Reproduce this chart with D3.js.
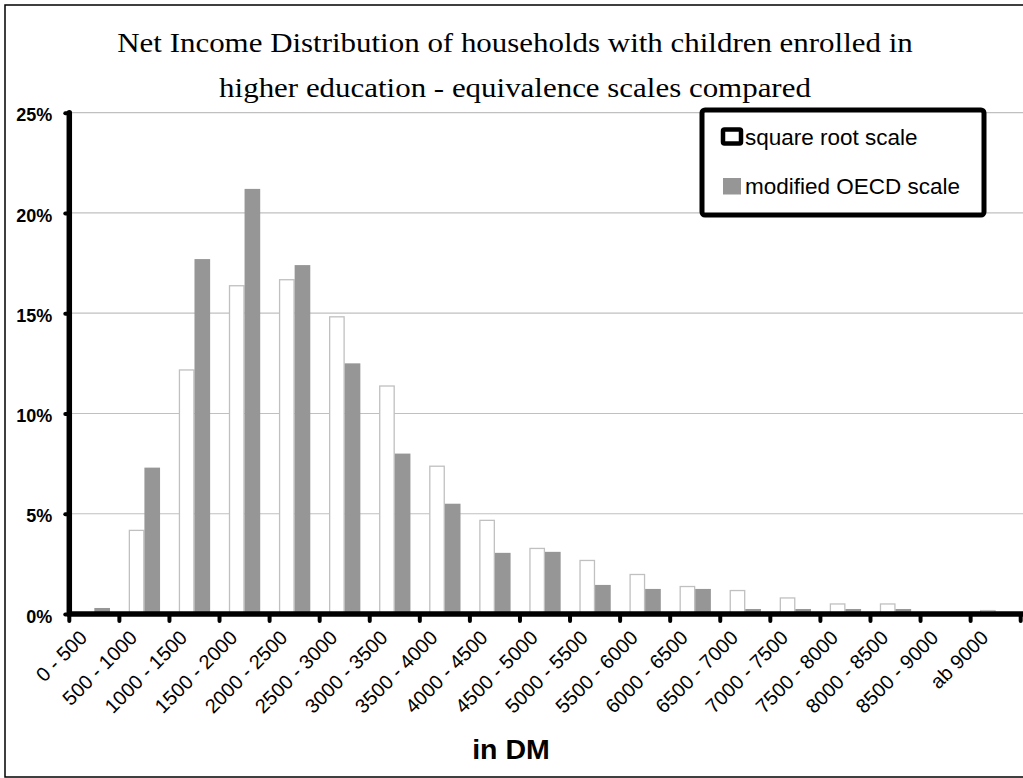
<!DOCTYPE html>
<html>
<head>
<meta charset="utf-8">
<script src="https://cdn.jsdelivr.net/npm/d3@7/dist/d3.min.js"></script>
<style>
  html, body { margin: 0; padding: 0; background: #fff; }
  svg { display: block; }
</style>
</head>
<body>
<script>
const categories = ["0 - 500","500 - 1000","1000 - 1500","1500 - 2000","2000 - 2500","2500 - 3000","3000 - 3500","3500 - 4000","4000 - 4500","4500 - 5000","5000 - 5500","5500 - 6000","6000 - 6500","6500 - 7000","7000 - 7500","7500 - 8000","8000 - 8500","8500 - 9000","ab 9000"];
const seriesNames = ["square root scale", "modified OECD scale"];
const squareRootValues = [0, 4.2, 12.2, 16.4, 16.7, 14.85, 11.4, 7.4, 4.7, 3.3, 2.7, 2.0, 1.4, 1.2, 0.83, 0.53, 0.53, 0, 0.2];
const oecdValues = [0.3, 7.3, 17.7, 21.2, 17.4, 12.5, 8.0, 5.5, 3.05, 3.1, 1.45, 1.25, 1.25, 0.25, 0.25, 0.25, 0.25, 0, 0];
const yTicks = [0, 5, 10, 15, 20, 25];
const titleLines = ["Net Income Distribution of households with children enrolled in", "higher education - equivalence scales compared"];
const xTitle = "in DM";

(function () {
const W = 1023, H = 778;
const SANS = "Arial, 'Liberation Sans', sans-serif";
const svg = d3.select("body").append("svg").attr("width", W).attr("height", H);

// outer frame
svg.append("rect").attr("x", 5).attr("y", 5).attr("width", W + 20).attr("height", 772)
  .attr("fill", "#fff").attr("stroke", "#000").attr("stroke-width", 1.5);

const pLeft = 69.3, pRight = 1020.7, pTop = 112.7, pBottom = 614;
const x0 = d3.scaleBand().domain(categories).range([pLeft, pRight]).padding(0);
const x1 = d3.scaleBand().domain(seriesNames).range([0, x0.bandwidth()]).paddingInner(0).paddingOuter(0.6);
const y = d3.scaleLinear().domain([0, 25]).range([pBottom, pTop]);

// gridlines
svg.append("g").selectAll("line").data(yTicks.filter(d => d > 0)).join("line")
  .attr("x1", pLeft).attr("x2", W).attr("y1", d => y(d)).attr("y2", d => y(d))
  .attr("stroke", "#c0c0c0").attr("stroke-width", 1.2);

// bars
const data = categories.map((c, i) => ({ c, vals: [squareRootValues[i], oecdValues[i]] }));
const g = svg.append("g");
data.forEach(d => {
  d.vals.forEach((v, si) => {
    if (v <= 0) return;
    const bx = x0(d.c) + x1(seriesNames[si]);
    const bw = x1.bandwidth();
    if (si === 0) {
      g.append("rect").attr("x", bx + 0.6).attr("y", y(v) + 0.6)
        .attr("width", bw - 1.2).attr("height", Math.max(0, y(0) - y(v) - 0.6))
        .attr("fill", "#fff").attr("stroke", "#c0c0c0").attr("stroke-width", 1.3);
    } else {
      g.append("rect").attr("x", bx).attr("y", y(v))
        .attr("width", bw).attr("height", y(0) - y(v))
        .attr("fill", "#969696");
    }
  });
});

// y axis
const yAxis = d3.axisLeft(y).tickValues(yTicks).tickSize(5).tickFormat(d => d + "%");
const yg = svg.append("g").attr("transform", `translate(${pLeft},0)`).call(yAxis);
yg.select(".domain").remove();
yg.selectAll(".tick line").attr("stroke", "#000").attr("stroke-width", 4).attr("stroke-linecap", "round").attr("x1", -4).attr("x2", 0);
yg.selectAll(".tick text").attr("x", -17).attr("dy", "0.45em")
  .attr("font-family", SANS).attr("font-weight", "bold")
  .attr("font-size", 18).attr("fill", "#000");
svg.append("line").attr("x1", pLeft).attr("x2", pLeft).attr("y1", pTop).attr("y2", pBottom)
  .attr("stroke", "#000").attr("stroke-width", 5.5).attr("stroke-linecap", "round");

// x axis
const xAxis = d3.axisBottom(x0).tickSize(0).tickFormat(d => d);
const xg = svg.append("g").attr("transform", `translate(0,${pBottom})`).call(xAxis);
xg.select(".domain").remove();
xg.selectAll(".tick line").remove();
xg.selectAll(".tick text")
  .attr("font-family", SANS).attr("font-size", 20).attr("fill", "#000")
  .attr("text-anchor", "end").attr("y", 0).attr("dy", 0)
  .attr("transform", "translate(-6,25) rotate(-45)");
// boundary tick marks
const bounds = categories.map(c => x0(c)).concat([pRight]);
svg.append("g").selectAll("line").data(bounds).join("line")
  .attr("x1", d => d).attr("x2", d => d).attr("y1", pBottom).attr("y2", pBottom + 7)
  .attr("stroke", "#000").attr("stroke-width", 4).attr("stroke-linecap", "round");
svg.append("line").attr("x1", pLeft - 2).attr("x2", W).attr("y1", pBottom).attr("y2", pBottom)
  .attr("stroke", "#000").attr("stroke-width", 5.5);

// titles
svg.append("g").selectAll("text").data(titleLines).join("text")
  .attr("transform", (d, i) => `translate(515,${52 + i * 44.5}) scale(1.105,1)`)
  .attr("text-anchor", "middle").attr("font-family", "'Liberation Serif', 'Times New Roman', serif")
  .attr("font-size", 28).attr("fill", "#000").text(d => d);
svg.append("text").attr("x", 511).attr("y", 759).attr("text-anchor", "middle")
  .attr("font-family", SANS).attr("font-weight", "bold")
  .attr("font-size", 28.5).attr("fill", "#000").text(xTitle);

// legend
const lg = svg.append("g");
lg.append("rect").attr("x", 702).attr("y", 110).attr("width", 282).attr("height", 105).attr("rx", 3)
  .attr("fill", "#fff").attr("stroke", "#000").attr("stroke-width", 5);
const legendRows = [{ name: seriesNames[0], y: 145 }, { name: seriesNames[1], y: 194 }];
lg.append("rect").attr("x", 723).attr("y", 129.5).attr("width", 18).attr("height", 14).attr("rx", 1.5)
  .attr("fill", "#fff").attr("stroke", "#000").attr("stroke-width", 4.5);
lg.append("rect").attr("x", 723).attr("y", 178).attr("width", 18).attr("height", 16.5)
  .attr("fill", "#969696");
lg.selectAll("text").data(legendRows).join("text")
  .attr("x", 745).attr("y", d => d.y)
  .attr("font-family", SANS).attr("font-size", 22.5).attr("fill", "#000")
  .text(d => d.name);
})();
</script>
</body>
</html>
